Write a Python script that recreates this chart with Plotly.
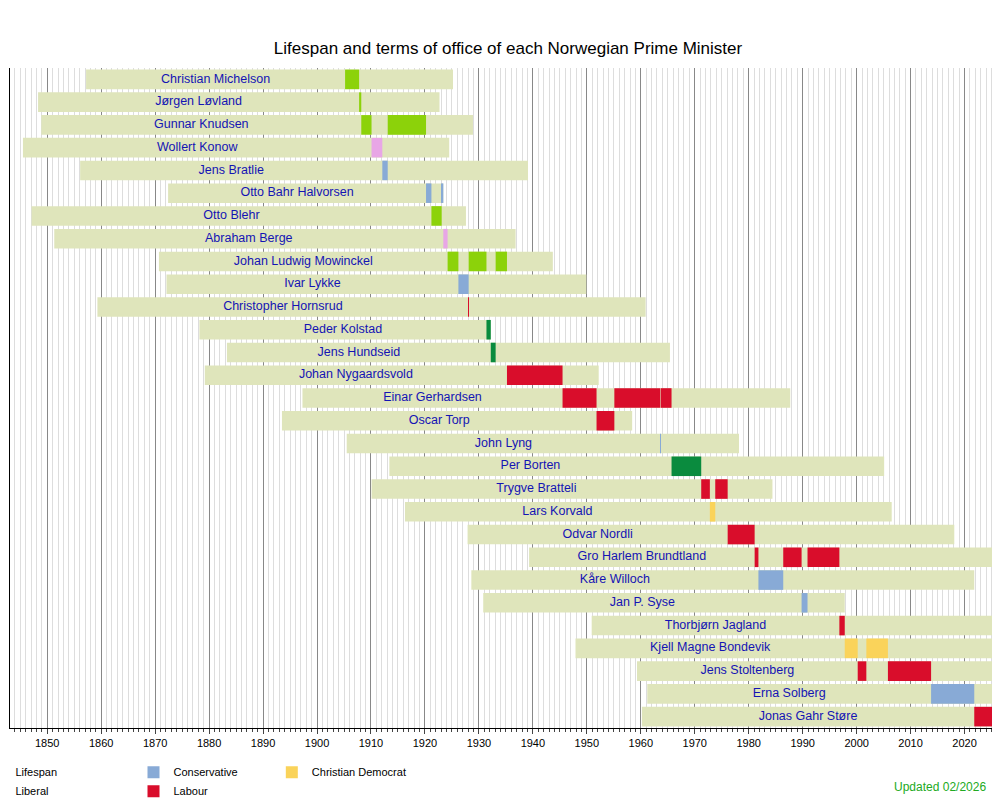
import plotly.graph_objects as go

# name, birth, death (None = living)
names = ["Christian Michelson", "Jørgen Løvland", "Gunnar Knudsen", "Wollert Konow", "Jens Bratlie",
         "Otto Bahr Halvorsen", "Otto Blehr", "Abraham Berge", "Johan Ludwig Mowinckel", "Ivar Lykke",
         "Christopher Hornsrud", "Peder Kolstad", "Jens Hundseid", "Johan Nygaardsvold", "Einar Gerhardsen",
         "Oscar Torp", "John Lyng", "Per Borten", "Trygve Bratteli", "Lars Korvald", "Odvar Nordli",
         "Gro Harlem Brundtland", "Kåre Willoch", "Jan P. Syse", "Thorbjørn Jagland", "Kjell Magne Bondevik",
         "Jens Stoltenberg", "Erna Solberg", "Jonas Gahr Støre"]
births = [1857.2, 1848.3, 1848.9, 1845.5, 1856.1, 1872.4, 1847.1, 1851.3, 1870.7, 1872.1,
          1859.3, 1878.2, 1883.3, 1879.2, 1897.3, 1893.5, 1905.5, 1913.4, 1910.1, 1916.3, 1927.9,
          1939.3, 1928.6, 1930.8, 1950.9, 1947.9, 1959.3, 1961.2, 1960.2]
deaths = [1925.2, 1922.7, 1928.9, 1924.5, 1939.1, 1923.4, 1927.6, 1936.8, 1943.7, 1949.9,
          1960.9, 1932.2, 1965.4, 1952.2, 1987.7, 1958.4, 1978.2, 2005.1, 1984.4, 2006.5, 2018.1,
          None, 2021.8, 1997.8, None, None, None, None, None]
now = 2026.1

# terms: (name, start, end, party)
terms = [
    ("Christian Michelson", 1905.2, 1907.8, "Liberal"),
    ("Jørgen Løvland", 1907.8, 1908.2, "Liberal"),
    ("Gunnar Knudsen", 1908.2, 1910.1, "Liberal"),
    ("Gunnar Knudsen", 1913.1, 1920.2, "Liberal"),
    ("Wollert Konow", 1910.1, 1912.1, "Free-Minded Liberal"),
    ("Jens Bratlie", 1912.1, 1913.1, "Conservative"),
    ("Otto Bahr Halvorsen", 1920.2, 1921.2, "Conservative"),
    ("Otto Bahr Halvorsen", 1923.1, 1923.4, "Conservative"),
    ("Otto Blehr", 1921.2, 1923.1, "Liberal"),
    ("Abraham Berge", 1923.4, 1924.2, "Free-Minded Liberal"),
    ("Johan Ludwig Mowinckel", 1924.2, 1926.2, "Liberal"),
    ("Johan Ludwig Mowinckel", 1928.1, 1931.4, "Liberal"),
    ("Johan Ludwig Mowinckel", 1933.1, 1935.2, "Liberal"),
    ("Ivar Lykke", 1926.2, 1928.1, "Conservative"),
    ("Christopher Hornsrud", 1928.05, 1928.15, "Labour"),
    ("Peder Kolstad", 1931.4, 1932.2, "Agrarian/Centre"),
    ("Jens Hundseid", 1932.2, 1933.1, "Agrarian/Centre"),
    ("Johan Nygaardsvold", 1935.2, 1945.5, "Labour"),
    ("Einar Gerhardsen", 1945.5, 1951.8, "Labour"),
    ("Einar Gerhardsen", 1955.1, 1963.6, "Labour"),
    ("Einar Gerhardsen", 1963.7, 1965.7, "Labour"),
    ("Oscar Torp", 1951.8, 1955.1, "Labour"),
    ("John Lyng", 1963.6, 1963.7, "Conservative"),
    ("Per Borten", 1965.7, 1971.2, "Agrarian/Centre"),
    ("Trygve Bratteli", 1971.2, 1972.8, "Labour"),
    ("Trygve Bratteli", 1973.8, 1976.1, "Labour"),
    ("Lars Korvald", 1972.8, 1973.8, "Christian Democrat"),
    ("Odvar Nordli", 1976.1, 1981.1, "Labour"),
    ("Gro Harlem Brundtland", 1981.1, 1981.8, "Labour"),
    ("Gro Harlem Brundtland", 1986.4, 1989.8, "Labour"),
    ("Gro Harlem Brundtland", 1990.9, 1996.8, "Labour"),
    ("Kåre Willoch", 1981.8, 1986.4, "Conservative"),
    ("Jan P. Syse", 1989.8, 1990.9, "Conservative"),
    ("Thorbjørn Jagland", 1996.8, 1997.8, "Labour"),
    ("Kjell Magne Bondevik", 1997.8, 2000.2, "Christian Democrat"),
    ("Kjell Magne Bondevik", 2001.8, 2005.8, "Christian Democrat"),
    ("Jens Stoltenberg", 2000.2, 2001.8, "Labour"),
    ("Jens Stoltenberg", 2005.8, 2013.8, "Labour"),
    ("Erna Solberg", 2013.8, 2021.8, "Conservative"),
    ("Jonas Gahr Støre", 2021.8, now, "Labour"),
]

colors = {
    "Lifespan": "#dfe5bb",
    "Liberal": "#8cd20a",
    "Free-Minded Liberal": "#e8a6e6",
    "Conservative": "#88aad6",
    "Labour": "#d90d2b",
    "Agrarian/Centre": "#0a8b3e",
    "Christian Democrat": "#fad35a",
}
legend_of = {"Lifespan": "legend", "Liberal": "legend", "Free-Minded Liberal": "legend",
             "Conservative": "legend2", "Labour": "legend2", "Agrarian/Centre": "legend2",
             "Christian Democrat": "legend3"}

fig = go.Figure()
ends = [d if d is not None else now for d in deaths]
fig.add_trace(go.Bar(y=names, x=[e - b for b, e in zip(births, ends)], base=births, orientation="h",
                     marker=dict(color=colors["Lifespan"], line_width=0), width=0.86,
                     name="Lifespan", legend="legend"))

for party in ["Liberal", "Free-Minded Liberal", "Conservative", "Labour", "Agrarian/Centre", "Christian Democrat"]:
    sel = [t for t in terms if t[3] == party]
    fig.add_trace(go.Bar(y=[t[0] for t in sel], x=[t[2] - t[1] for t in sel], base=[t[1] for t in sel],
                         orientation="h", marker=dict(color=colors[party], line_width=0), width=0.86,
                         name=party, legend=legend_of[party]))

first_start = {}
for t in terms:
    first_start[t[0]] = min(first_start.get(t[0], 9999), t[1])
fig.add_trace(go.Scatter(y=names, x=[(b + first_start[n]) / 2 for n, b in zip(names, births)],
                         mode="text", text=names, textfont=dict(color="#1414b4", size=12.5),
                         showlegend=False, hoverinfo="skip"))

fig.add_vline(x=now, line_color="#22aa22", line_width=1.5)

leg = dict(yanchor="top", xanchor="left", y=-0.045, font=dict(size=11), tracegroupgap=0,
           itemwidth=30, bgcolor="rgba(0,0,0,0)")
fig.update_layout(
    width=1000, height=800, barmode="overlay", plot_bgcolor="white", paper_bgcolor="white",
    font=dict(family="Liberation Sans, Arial", size=11, color="black"),
    title=dict(text="Lifespan and terms of office of each Norwegian Prime Minister", x=0.5, y=0.95,
               yanchor="middle", font=dict(size=17)),
    margin=dict(l=2, r=10, t=60, b=80, autoexpand=False),
    legend=dict(leg, x=-0.035),
    legend2=dict(leg, x=0.125),
    legend3=dict(leg, x=0.265),
    annotations=[dict(text="Updated 02/2026", xref="paper", yref="paper", x=0.99, y=-0.075,
                      xanchor="right", yanchor="top", showarrow=False, font=dict(color="#22aa22", size=12))],
)
fig.update_xaxes(range=[1843.1, 2026.2], dtick=10, tick0=1850, showgrid=True, gridcolor="#888888",
                 ticks="outside", ticklen=5, showline=True, linecolor="black", automargin=False,
                 minor=dict(dtick=1, showgrid=True, gridcolor="#dddddd", ticks="outside", ticklen=3),
                 tickfont=dict(size=11))
fig.update_yaxes(categoryorder="array", categoryarray=names, range=[28.5, -0.5], showticklabels=False,
                 showgrid=False, showline=True, linecolor="black", automargin=False)

fig.write_html("out.html")
